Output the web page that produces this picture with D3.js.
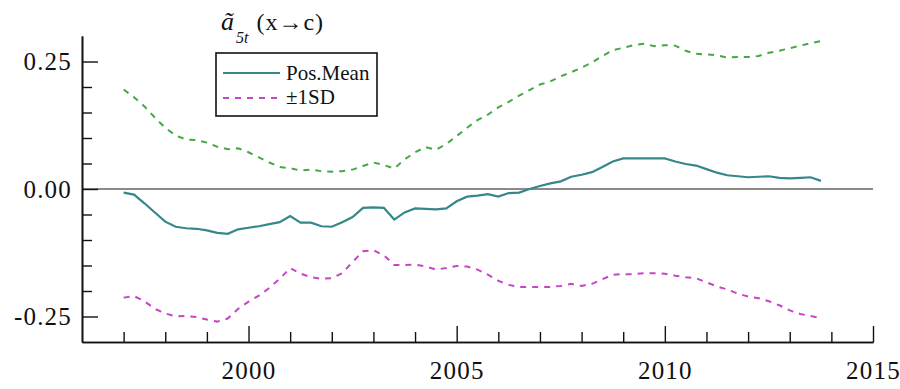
<!DOCTYPE html>
<html>
<head>
<meta charset="utf-8">
<script src="https://cdn.jsdelivr.net/npm/d3@7"></script>
<style>
  html, body { margin: 0; padding: 0; background: #fff; }
  svg { display: block; }
  svg text { font-family: "Liberation Serif", "Times New Roman", serif !important; fill: #111; }
</style>
</head>
<body>
<svg id="chart" width="900" height="389"></svg>
<script>
// Quarterly observation times
const times = [
  1997.00, 1997.25, 1997.50, 1997.75, 1998.00, 1998.25, 1998.50, 1998.75,
  1999.00, 1999.25, 1999.50, 1999.75, 2000.00, 2000.25, 2000.50, 2000.75,
  2001.00, 2001.25, 2001.50, 2001.75, 2002.00, 2002.25, 2002.50, 2002.75,
  2003.00, 2003.25, 2003.50, 2003.75, 2004.00, 2004.25, 2004.50, 2004.75,
  2005.00, 2005.25, 2005.50, 2005.75, 2006.00, 2006.25, 2006.50, 2006.75,
  2007.00, 2007.25, 2007.50, 2007.75, 2008.00, 2008.25, 2008.50, 2008.75,
  2009.00, 2009.25, 2009.50, 2009.75, 2010.00, 2010.25, 2010.50, 2010.75,
  2011.00, 2011.25, 2011.50, 2011.75, 2012.00, 2012.25, 2012.50, 2012.75,
  2013.00, 2013.25, 2013.50, 2013.75
];

// Posterior mean of the time-varying coefficient
const posMean = [
  -0.007, -0.011, -0.028, -0.046, -0.064, -0.074, -0.077, -0.078,
  -0.081, -0.086, -0.088, -0.079, -0.076, -0.073, -0.069, -0.065,
  -0.053, -0.066, -0.066, -0.073, -0.074, -0.065, -0.055, -0.037,
  -0.036, -0.037, -0.060, -0.046, -0.038, -0.039, -0.040, -0.038,
  -0.024, -0.015, -0.013, -0.010, -0.015, -0.008, -0.007, 0.000,
   0.006,  0.011,  0.015,  0.024,  0.028,  0.033,  0.043,  0.054,
   0.060,  0.060,  0.060,  0.060,  0.060,  0.054,  0.049,  0.046,
   0.039,  0.032,  0.027,  0.025,  0.023,  0.024,  0.025,  0.022,
   0.021,  0.022,  0.023,  0.016
];

// Mean + 1 SD
const upperSD = [
  0.195, 0.180, 0.162, 0.140, 0.120, 0.105, 0.097, 0.096,
  0.091, 0.083, 0.078, 0.080, 0.072, 0.062, 0.052, 0.043,
  0.041, 0.036, 0.038, 0.035, 0.034, 0.035, 0.038, 0.045,
  0.052, 0.047, 0.040, 0.058, 0.072, 0.082, 0.077, 0.088,
  0.104, 0.120, 0.135, 0.146, 0.160, 0.171, 0.183, 0.194,
  0.205, 0.211, 0.221, 0.229, 0.238, 0.248, 0.261, 0.272,
  0.277, 0.282, 0.285, 0.280, 0.282, 0.281, 0.271, 0.265,
  0.264, 0.262, 0.258, 0.259, 0.259, 0.261, 0.267, 0.271,
  0.276, 0.281, 0.286, 0.290
];

// Mean - 1 SD
const lowerSD = [
  -0.213, -0.210, -0.220, -0.235, -0.244, -0.250, -0.249, -0.251,
  -0.256, -0.260, -0.254, -0.235, -0.221, -0.209, -0.194, -0.176,
  -0.155, -0.166, -0.173, -0.176, -0.175, -0.165, -0.143, -0.122,
  -0.120, -0.130, -0.149, -0.149, -0.148, -0.152, -0.158, -0.155,
  -0.151, -0.152, -0.158, -0.168, -0.180, -0.188, -0.192, -0.192,
  -0.192, -0.192, -0.190, -0.186, -0.190, -0.186, -0.177, -0.168,
  -0.167, -0.167, -0.165, -0.165, -0.166, -0.170, -0.173, -0.175,
  -0.183, -0.191, -0.197, -0.205, -0.211, -0.214, -0.220, -0.228,
  -0.238, -0.245, -0.249, -0.253
];

// Axis ticks and labels
const xMajorTicks = [2000, 2005, 2010, 2015];
const xMajorLabels = ["2000", "2005", "2010", "2015"];
const xMinorTicks = [1997, 1998, 1999, 2001, 2002, 2003, 2004, 2006, 2007, 2008, 2009, 2011, 2012, 2013, 2014];
const yMajorTicks = [-0.25, 0, 0.25];
const yMajorLabels = ["-0.25", "0.00", "0.25"];
const yMinorTicks = [-0.20, -0.15, -0.10, -0.05, 0.05, 0.10, 0.15, 0.20];

const legendItems = ["Pos.Mean", "\u00B11SD"];

const SERIF = "Liberation Serif, Times New Roman, serif";
const svg = d3.select("#chart").attr("font-family", SERIF);
const x = d3.scaleLinear().domain([1996, 2015]).range([82, 873]);
const y = d3.scaleLinear().domain([-0.30, 0.30]).range([342, 36]);

const colMean = "#35878a";
const colUp = "#45a845";
const colLow = "#c545c5";

// zero reference line
svg.append("line")
  .attr("x1", x(1996)).attr("x2", x(2015))
  .attr("y1", y(0)).attr("y2", y(0))
  .attr("stroke", "#8a8a8a").attr("stroke-width", 2);

// axes: ticks point inward
const gx = svg.append("g").attr("transform", `translate(0,${y(-0.30)})`);
gx.call(d3.axisBottom(x).tickValues(xMinorTicks).tickSizeInner(-10).tickSizeOuter(0).tickFormat(""));
const gxM = svg.append("g").attr("transform", `translate(0,${y(-0.30)})`);
gxM.call(d3.axisBottom(x).tickValues(xMajorTicks).tickSizeInner(-16).tickSizeOuter(0)
  .tickPadding(19).tickFormat((d, i) => xMajorLabels[i]));

const gy = svg.append("g").attr("transform", `translate(${x(1996)},0)`);
gy.call(d3.axisLeft(y).tickValues(yMinorTicks).tickSizeInner(-10).tickSizeOuter(0).tickFormat(""));
const gyM = svg.append("g").attr("transform", `translate(${x(1996)},0)`);
gyM.call(d3.axisLeft(y).tickValues(yMajorTicks).tickSizeInner(-16).tickSizeOuter(0)
  .tickPadding(10).tickFormat((d, i) => yMajorLabels[i]));

svg.selectAll("g").attr("font-family", SERIF);
svg.selectAll(".domain").attr("stroke", "#111").attr("stroke-width", 1.6);
svg.selectAll(".tick line").attr("stroke", "#111").attr("stroke-width", 1.4);
svg.selectAll(".tick text")
  .attr("font-size", 25).attr("letter-spacing", 1.2).attr("fill", "#111");
gxM.selectAll(".tick text").attr("dy", "0.71em");

// series lines
const line = vals => d3.line().x((d, i) => x(times[i])).y(d => y(d))(vals);

svg.append("path").attr("d", line(upperSD))
  .attr("fill", "none").attr("stroke", colUp).attr("stroke-width", 2)
  .attr("stroke-dasharray", "6,6");
svg.append("path").attr("d", line(lowerSD))
  .attr("fill", "none").attr("stroke", colLow).attr("stroke-width", 2)
  .attr("stroke-dasharray", "6,6");
svg.append("path").attr("d", line(posMean))
  .attr("fill", "none").attr("stroke", colMean).attr("stroke-width", 2.2);

// title: ã_{5t} (x→c)
const title = svg.append("text").attr("x", 221).attr("y", 30).attr("font-size", 26);
title.append("tspan").attr("font-style", "italic").text("\u00E3");
title.append("tspan").attr("font-style", "italic").attr("font-size", 16)
  .attr("dy", 13).attr("dx", 2).text("5t");
title.append("tspan").attr("dy", -13).attr("dx", 8).attr("font-size", 24)
  .attr("letter-spacing", 1).text("(x\u2192c)");

// legend
const lg = svg.append("g");
lg.append("rect").attr("x", 216).attr("y", 53).attr("width", 161).attr("height", 63)
  .attr("fill", "#fff").attr("stroke", "#111").attr("stroke-width", 1.6);
lg.append("line").attr("x1", 223).attr("x2", 280).attr("y1", 73).attr("y2", 73)
  .attr("stroke", colMean).attr("stroke-width", 2);
lg.append("line").attr("x1", 223).attr("x2", 280).attr("y1", 98).attr("y2", 98)
  .attr("stroke", colLow).attr("stroke-width", 2).attr("stroke-dasharray", "6,6");
lg.selectAll("text.lab").data(legendItems).join("text")
  .attr("class", "lab")
  .attr("font-family", SERIF)
  .attr("x", 286).attr("y", (d, i) => 80 + i * 24)
  .attr("font-size", 21).text(d => d);
</script>
</body>
</html>
